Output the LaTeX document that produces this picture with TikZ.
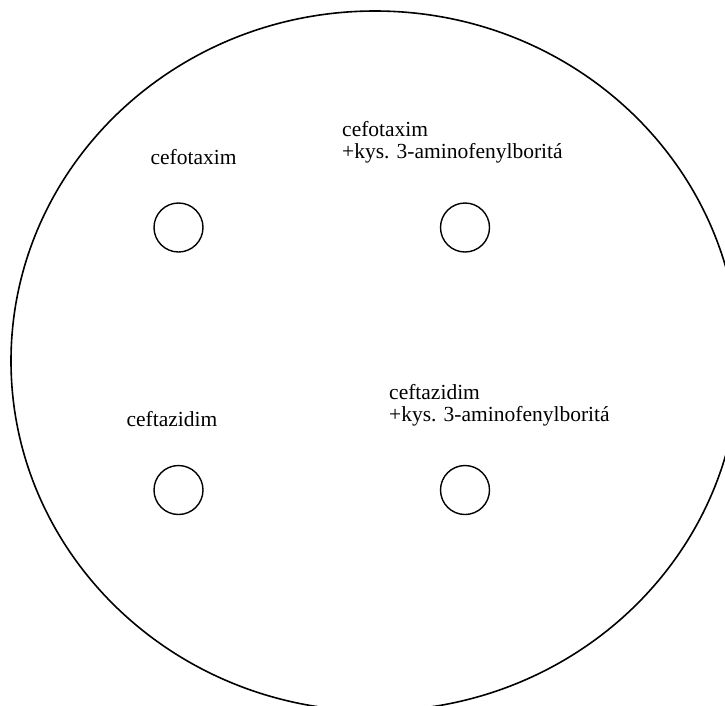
\documentclass[tikz,border=0pt]{standalone}
\usepackage{fontspec}
\setmainfont{Liberation Serif}
\begin{document}
\begin{tikzpicture}[x=1pt,y=-1pt,
  well/.style={draw,line width=1.4pt,circle,minimum size=49pt,inner sep=0pt},
  lbl/.style={inner sep=0pt,font=\fontsize{21.5}{22}\selectfont,align=left}]
\useasboundingbox (0,0) rectangle (725,705);
\begin{scope}
\clip (0,0) rectangle (725,705);
\draw[line width=1.6pt] (375,361) ellipse [x radius=364, y radius=350];
\end{scope}
\node[well] (w1) at (178.5,227.5) {};
\node[well] (w2) at (465,227.5) {};
\node[well] (w3) at (178.5,490) {};
\node[well] (w4) at (465,490) {};
\node[lbl,anchor=base] (t1) at (193.5,164) {cefotaxim};
\node[lbl,anchor=base west] (t2) at (342,158) {cefotaxim\\+kys. 3-aminofenylboritá};
\node[lbl,anchor=base] (t3) at (172,426) {ceftazidim};
\node[lbl,anchor=base west] (t4) at (389,421) {ceftazidim\\+kys. 3-aminofenylboritá};
\end{tikzpicture}
\end{document}
